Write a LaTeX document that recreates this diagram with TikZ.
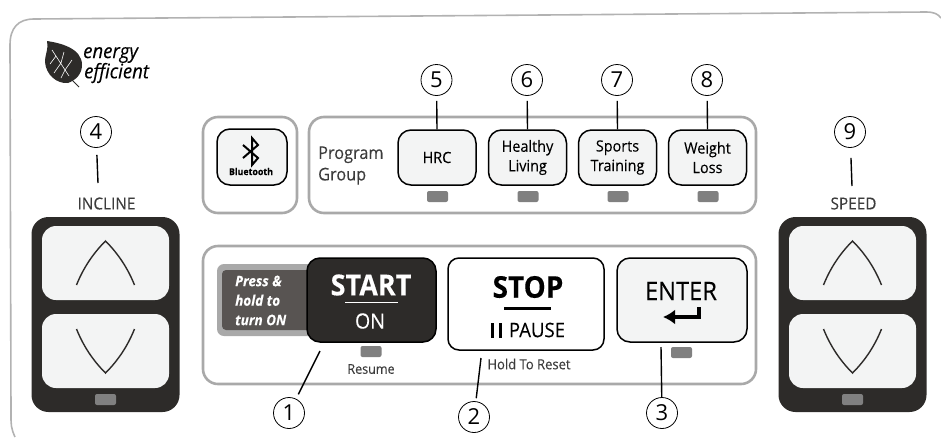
\documentclass[tikz,border=0pt]{standalone}
\usepackage{fontspec}
\setmainfont{Open Sans}[FakeStretch=0.93,FakeBold=0.12]
\newfontfamily\numfont{Open Sans}
\usetikzlibrary{arrows.meta}
\definecolor{panelgray}{HTML}{A9A9A9}
\definecolor{darkkey}{HTML}{2D2B29}
\definecolor{keyfill}{HTML}{F3F4F4}
\definecolor{ledgray}{HTML}{808080}
\definecolor{labelgray}{HTML}{3C3C3C}
\definecolor{tagfill}{HTML}{585452}
\newcommand{\fsz}[1]{\fontsize{#1}{#1}\selectfont}

\begin{document}
\begin{tikzpicture}[x=1pt,y=-1pt,
  panelbox/.style={draw=panelgray,line width=2.6pt,rounded corners=15pt,inner sep=0pt,fill=white},
  keybox/.style={draw=black,line width=1.5pt,rounded corners=13pt,inner sep=0pt,fill=keyfill,align=center,text=black},
  led/.style={fill=ledgray,rounded corners=2pt,minimum width=21pt,minimum height=11pt,inner sep=0pt},
  numcircle/.style={circle,draw,line width=.8pt,minimum size=31pt,inner sep=0pt,font=\numfont\fsz{22}},
  leader/.style={line width=1.4pt},
  updown/.style={draw=darkkey,line width=1.4pt,line join=miter},
  caption/.style={text=labelgray,inner sep=0pt},
]
\useasboundingbox (0,0) rectangle (941,437);

% outer housing
\draw[draw=panelgray!90,line width=1.6pt] (15,437) .. controls (11,428) and (11,425) .. (11,415)
  -- (10,45) .. controls (10,28) and (18,19) .. (34,19) -- (926,12) .. controls (934,12) and (938,14) .. (941,18);

% leaf and logo
\fill[darkkey] (47,41) .. controls (60,43) and (82,48) .. (82,65) .. controls (82,74) and (76,80) .. (68,83)
  .. controls (57,84) and (46,75) .. (45,62) .. controls (45,54) and (49,48) .. (47,41) -- cycle;
\draw[white,line width=.6pt] (52,50) -- (69,76) (56,56) -- (50,64) (61,63) -- (54,73) (65,70) -- (61,78)
  (61,63) -- (64,52) (65,70) -- (72,60);
\draw[darkkey,line width=1pt] (68,76) -- (79,87);
\node[inner sep=0pt,anchor=west,font=\fsz{20}\itshape,text=black] (logoa) at (83,55) {energy};
\node[inner sep=0pt,anchor=west,font=\fsz{20}\itshape,text=black] (logob) at (84,73) {efficient};

% group panels
\node[panelbox,minimum width=94pt,minimum height=96pt] (btpanel) at (250,165) {};
\node[panelbox,minimum width=447pt,minimum height=96pt] (progpanel) at (532.5,165) {};
\node[panelbox,minimum width=553pt,minimum height=138pt] (mainpanel) at (479.5,315) {};

% bluetooth
\node[keybox,minimum width=70pt,minimum height=56pt] (btkey) at (252,157) {};
\draw[line width=2pt,line join=miter] (243,145) -- (258,158) -- (252,165) -- (252,138) -- (258,145) -- (243,158);
\node[inner sep=0pt,font=\fsz{9.5}\bfseries] (btlabel) at (251,171.5) {Bluetooth};

% program group
\node[caption,anchor=west,align=left,font=\fsz{17.5}] (proglabel) at (318,165.5) {Program\\[4pt]Group};
\foreach \pname/\px/\pnum/\ptext in {hrc/437/5/HRC,healthy/527.5/6/{Healthy\\[4pt]Living},sports/617.5/7/{Sports\\[4pt]Training},weight/707.5/8/{Weight\\[4pt]Loss}}{
  \node[keybox,minimum width=78pt,minimum height=55pt,font=\fsz{15.5}] (\pname) at (\px,157.5) {\ptext};
  \node[led] (\pname-led) at (\px+.5,196.5) {};
  \node[numcircle] (c\pnum) at (\px-.5,80) {\pnum};
  \draw[leader,shorten <=5pt] (c\pnum) -- (\pname.north);
}

% incline and speed
\foreach \pname/\px/\pnum/\ptext in {incline/105.5/4/INCLINE,speed/852.5/9/SPEED}{
  \node[rounded corners=17pt,fill=darkkey,minimum width=148pt,minimum height=195pt,inner sep=0pt] (\pname) at (\px,314.5) {};
  \node[rounded corners=14pt,fill=keyfill,minimum width=127pt,minimum height=74pt,inner sep=0pt] (\pname-up) at (\px,263) {};
  \node[rounded corners=14pt,fill=keyfill,minimum width=127pt,minimum height=74pt,inner sep=0pt] (\pname-down) at (\px,351) {};
  \node[led] (\pname-led) at (\px,399.5) {};
  \draw[updown] (\px-29,285) .. controls (\px-21,265) and (\px-10,251) .. (\px,241) .. controls (\px+10,251) and (\px+21,265) .. (\px+29,285);
  \draw[updown] (\px-29,329) .. controls (\px-21,349) and (\px-10,363) .. (\px,373) .. controls (\px+10,363) and (\px+21,349) .. (\px+29,329);
  \node[caption,font=\fsz{16.5}] (\pname-label) at (\px+1,203.5) {\ptext};
}
\node[numcircle] (c4) at (96,132) {4};
\node[numcircle] (c9) at (850,132) {9};
\coordinate (e4) at (98,183);
\coordinate (e9) at (852,186);
\draw[leader,shorten <=7pt] (c4) -- (e4);
\draw[leader,shorten <=10pt] (c9) -- (e9);

% start button
\node[fill=panelgray,rounded corners=7pt,minimum width=103pt,minimum height=72pt,inner sep=0pt] (tagback) at (268.5,300) {};
\node[fill=tagfill,rounded corners=4pt,minimum width=96pt,minimum height=60pt,inner sep=0pt] (tag) at (270,300) {};
\node[inner sep=0pt,anchor=west,align=left,text=white,font=\fsz{14.5}\bfseries\itshape] (taglabel) at (235,300.5) {Press \&\\[5pt]hold to\\[5pt]turn ON};
\node[keybox,fill=darkkey,minimum width=129pt,minimum height=84pt] (start) at (371.5,300) {};
\node[inner sep=0pt,text=white,font=\fsz{29}\bfseries] (startlabel) at (371,285) {START};
\draw[white,line width=1pt] (345,302) -- (398,302);
\node[inner sep=0pt,text=white,font=\fsz{21}] (onlabel) at (370,321) {ON};
\node[led] (startled) at (371,351.5) {};
\node[caption,font=\fsz{13.5}] (resume) at (371,369) {Resume};

% stop button
\node[keybox,fill=white,minimum width=156pt,minimum height=92pt,rounded corners=11pt] (stop) at (526,304) {};
\node[inner sep=0pt,font=\fsz{30}\bfseries] (stoplabel) at (528,287) {STOP};
\draw[line width=3pt] (504,308) -- (551,308);
\draw[line width=3pt] (492,323) -- (492,338) (500,323) -- (500,338);
\node[inner sep=0pt,font=\fsz{20}] (pauselabel) at (537,330) {PAUSE};
\node[caption,font=\fsz{14}] (holdlabel) at (529,364) {Hold To Reset};

% enter button
\node[keybox,minimum width=130pt,minimum height=84pt] (enter) at (682,300) {};
\node[inner sep=0pt,font=\fsz{25.5}] (enterlabel) at (681,291) {ENTER};
\draw[line width=3.2pt,-{Latex[length=12pt,width=15pt]}] (699,307) -- (699,317) -- (663,317);
\node[led] (enterled) at (681.5,352.5) {};

% numbered leaders
\node[numcircle] (c1) at (289,413) {1};
\node[numcircle] (c2) at (474,417) {2};
\node[numcircle] (c3) at (662,413) {3};
\coordinate (e1) at (320,351);
\coordinate (e2) at (481,358);
\coordinate (e3) at (661,347);
\draw[leader,shorten <=5pt] (c1) -- (e1);
\draw[leader,shorten <=3pt] (c2) -- (e2);
\draw[leader] (c3) -- (e3);
\end{tikzpicture}
\end{document}
